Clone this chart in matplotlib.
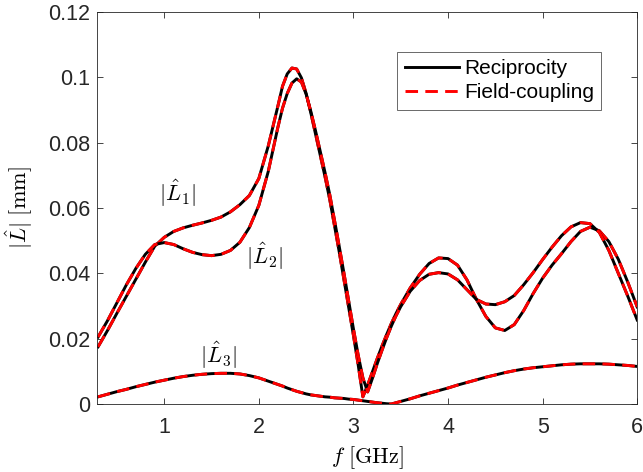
import matplotlib
matplotlib.use("Agg")
import matplotlib.pyplot as plt

# frequency grid [GHz], finer around the main peak and the dips
f = [0.3, 0.4, 0.5, 0.6, 0.7, 0.8, 0.9, 1.0, 1.1, 1.2, 1.3, 1.4, 1.5, 1.6, 1.7,
     1.8, 1.9, 2.0, 2.1, 2.2,
     2.25, 2.3, 2.35, 2.4, 2.45, 2.5, 2.55, 2.6, 2.65, 2.7, 2.75, 2.8, 2.85,
     2.9, 2.95, 3.0, 3.05, 3.1, 3.15, 3.2, 3.25, 3.3, 3.35, 3.4, 3.45, 3.5,
     3.6, 3.7, 3.8, 3.9, 4.0, 4.1, 4.2, 4.3, 4.4, 4.5, 4.6, 4.7, 4.8, 4.9,
     5.0, 5.1, 5.2, 5.3, 5.4, 5.5, 5.6, 5.7, 5.8, 5.9, 6.0]

# |L1| [mm]
L1 = [0.0175, 0.0225, 0.0278, 0.0330, 0.0382, 0.0434, 0.0483, 0.0510, 0.0528,
      0.0539, 0.0547, 0.0554, 0.0562, 0.0572, 0.0588, 0.0610, 0.0638, 0.0690,
      0.0790, 0.0910,
      0.0972, 0.1010, 0.1028, 0.1025, 0.0998, 0.0950, 0.0890, 0.0825, 0.0760,
      0.0695, 0.0625, 0.0545, 0.0465, 0.0380, 0.0295, 0.0210, 0.0120, 0.0022,
      0.0058, 0.0098, 0.0138, 0.0176, 0.0212, 0.0246, 0.0277, 0.0305,
      0.0355, 0.0397, 0.0430, 0.0447, 0.0445, 0.0425, 0.0380, 0.0320, 0.0268,
      0.0233, 0.0225, 0.0243, 0.0286, 0.0338, 0.0385, 0.0425, 0.0460, 0.0497,
      0.0528, 0.0541, 0.0530, 0.0497, 0.0443, 0.0373, 0.0297]

# |L2| [mm]
L2 = [0.0205, 0.0255, 0.0310, 0.0365, 0.0415, 0.0458, 0.0488, 0.0494, 0.0488,
      0.0475, 0.0464, 0.0457, 0.0454, 0.0458, 0.0470, 0.0495, 0.0540, 0.0608,
      0.0712, 0.0845,
      0.0905, 0.0950, 0.0982, 0.0995, 0.0985, 0.0948, 0.0895, 0.0835, 0.0772,
      0.0708, 0.0640, 0.0562, 0.0482, 0.0400, 0.0315, 0.0230, 0.0150, 0.0080,
      0.0037, 0.0078, 0.0122, 0.0163, 0.0202, 0.0238, 0.0270, 0.0298,
      0.0345, 0.0378, 0.0397, 0.0402, 0.0398, 0.0380, 0.0350, 0.0320, 0.0306,
      0.0304, 0.0313, 0.0332, 0.0365, 0.0402, 0.0442, 0.0480, 0.0515, 0.0542,
      0.0555, 0.0552, 0.0525, 0.0470, 0.0400, 0.0330, 0.0257]

# |L3| [mm]
L3 = [0.0022, 0.0030, 0.0038, 0.0045, 0.0053, 0.0060, 0.0067, 0.0073, 0.0079,
      0.0084, 0.0088, 0.0091, 0.0093, 0.0094, 0.0094, 0.0092, 0.0087, 0.0080,
      0.0070, 0.0060,
      0.0055, 0.0049, 0.0044, 0.0039, 0.0035, 0.0031, 0.0028, 0.0026, 0.0024,
      0.0022, 0.0021, 0.0019, 0.0018, 0.0017, 0.0015, 0.0014, 0.0012, 0.0010,
      0.0008, 0.0006, 0.0004, 0.00025, 0.0001, 0.0000, 0.0004, 0.0008,
      0.0016, 0.0025, 0.0033, 0.0041, 0.0049, 0.0058, 0.0066, 0.0074, 0.0082,
      0.0089, 0.0096, 0.0102, 0.0107, 0.0111, 0.0114, 0.0117, 0.0120, 0.0122,
      0.0123, 0.0123, 0.0123, 0.0122, 0.0120, 0.0118, 0.0115]

series = [L1, L2, L3]
names = ["Reciprocity", "Field-coupling"]
labels = [r"$|\hat{L}_1|$", r"$|\hat{L}_2|$", r"$|\hat{L}_3|$"]
label_pos = [(1.14, 0.0645), (2.06, 0.0453), (1.57, 0.0150)]

plt.rcParams["font.family"] = ["Liberation Sans", "DejaVu Sans"]
plt.rcParams["mathtext.fontset"] = "cm"

fig = plt.figure(figsize=(6.43, 4.72), dpi=100)
ax = fig.add_axes([0.151, 0.144, 0.84, 0.831])

for i, y in enumerate(series):
    ax.plot(f, y, color="black", lw=2.1, label=names[0] if i == 0 else None)
    ax.plot(f, y, color="red", lw=2.1, dashes=(4.3, 2.5),
            label=names[1] if i == 0 else None)

for txt, (x, y) in zip(labels, label_pos):
    ax.text(x, y, txt, fontsize=16, ha="center", va="center")

ax.set_xlim(0.29, 6)
ax.set_ylim(0, 0.12)
ax.set_xticks([1, 2, 3, 4, 5, 6])
ax.set_yticks([0, 0.02, 0.04, 0.06, 0.08, 0.1, 0.12])
ax.set_yticklabels(["0", "0.02", "0.04", "0.06", "0.08", "0.1", "0.12"])

ax.tick_params(direction="in", top=True, right=True, length=4,
               width=0.6, colors="#262626", labelsize=15.5)
ax.tick_params(axis="x", pad=9)
ax.tick_params(axis="y", pad=5)
for sp in ax.spines.values():
    sp.set_color("#262626")
    sp.set_linewidth(0.6)

ax.set_xlabel(r"$f\ [\mathrm{GHz}]$", fontsize=16, labelpad=5)
ax.set_ylabel(r"$|\hat{L}|\ [\mathrm{mm}]$", fontsize=16, labelpad=9)

leg = ax.legend(loc="upper left", bbox_to_anchor=(0.556, 0.898),
                fontsize=15, frameon=True, fancybox=False,
                handlelength=2.6, handletextpad=0.25, borderpad=0.35,
                labelspacing=0.25, borderaxespad=0)
leg.get_frame().set_edgecolor("#262626")
leg.get_frame().set_linewidth(0.6)

fig.savefig("out.png", dpi=100)
